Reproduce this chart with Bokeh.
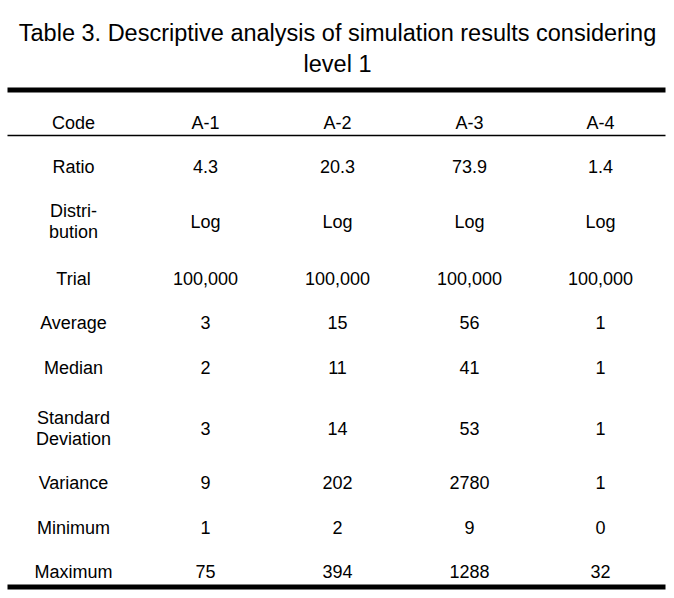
from bokeh.plotting import figure
from bokeh.models import Range1d, ColumnDataSource
from bokeh.core.properties import value
from bokeh.embed import file_html
from bokeh.resources import INLINE

# ---- data ----
title_lines = ["Table 3. Descriptive analysis of simulation results considering", "level 1"]
header_label = "Code"
codes = ["A-1", "A-2", "A-3", "A-4"]
row_labels = ["Ratio", "Distri-\nbution", "Trial", "Average", "Median",
              "Standard\nDeviation", "Variance", "Minimum", "Maximum"]
ratio = ["4.3", "20.3", "73.9", "1.4"]
distribution = ["Log", "Log", "Log", "Log"]
trial = ["100,000", "100,000", "100,000", "100,000"]
average = ["3", "15", "56", "1"]
median = ["2", "11", "41", "1"]
std_dev = ["3", "14", "53", "1"]
variance = ["9", "202", "2780", "1"]
minimum = ["1", "2", "9", "0"]
maximum = ["75", "394", "1288", "32"]
rows = [ratio, distribution, trial, average, median, std_dev, variance, minimum, maximum]

# ---- layout (pixel positions of the page) ----
FONT = "Liberation Sans"
W, H = 666, 590
col_x = [73, 205, 337, 469, 600]
header_base = 122
row_base = [166, 221, 278, 322, 367, 428, 482, 527, 571]   # baseline of single-line content
line_gap = 20.5
title_x = 337
title_base = [32, 63]
x_left, x_right = 7, 665

p = figure(width=W, height=H, output_backend="svg", toolbar_location=None,
           x_range=Range1d(0, W), y_range=Range1d(H, 0), min_border=0)
p.axis.visible = False
p.grid.visible = False
p.outline_line_color = None
p.background_fill_color = "white"
p.border_fill_color = "white"

# title
p.text(x=[title_x] * len(title_lines), y=title_base, text=title_lines, text_font=value(FONT),
       text_font_size="23.5px", text_align="center", text_baseline="alphabetic",
       text_color="black")

# rules
p.segment(x0=[x_left], y0=[89.5], x1=[x_right], y1=[89.5], line_width=5, line_color="black")
p.segment(x0=[x_left], y0=[135], x1=[x_right], y1=[135], line_width=1.5, line_color="black")
p.segment(x0=[x_left], y0=[586.5], x1=[x_right], y1=[586.5], line_width=5, line_color="black")

# cells
xs, ys, ts = [], [], []


def add(x, base, txt):
    parts = txt.split("\n")
    n = len(parts)
    for k, part in enumerate(parts):
        xs.append(x)
        ys.append(base + (k - (n - 1) / 2) * line_gap)
        ts.append(part)


add(col_x[0], header_base, header_label)
for j, c in enumerate(codes):
    add(col_x[j + 1], header_base, c)
for i, lab in enumerate(row_labels):
    add(col_x[0], row_base[i], lab)
    for j, v in enumerate(rows[i]):
        add(col_x[j + 1], row_base[i], v)

src = ColumnDataSource(dict(x=xs, y=ys, text=ts))
p.text(x="x", y="y", text="text", source=src, text_font=value(FONT),
       text_font_size="18px", text_align="center", text_baseline="alphabetic",
       text_color="black")

open("out.html", "w").write(file_html(p, INLINE))
